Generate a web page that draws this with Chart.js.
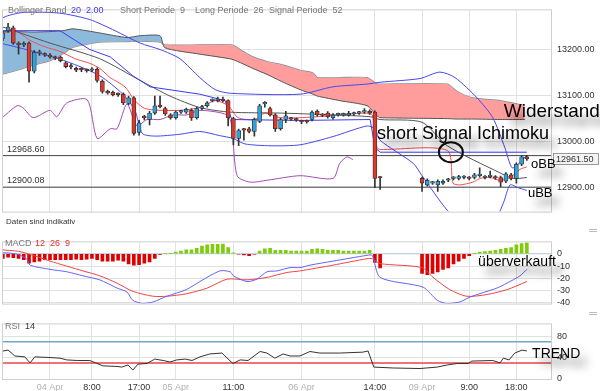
<!DOCTYPE html>
<html>
<head>
<meta charset="utf-8">
<script src="https://cdn.jsdelivr.net/npm/chart.js@4.4.1/dist/chart.umd.min.js"></script>
<style>
  body { margin: 0; background: #fff; width: 600px; height: 391px; overflow: hidden; position: relative; font-family: "Liberation Sans", Arial, sans-serif; }
  canvas { position: absolute; left: 0; }
  .lbl { position: absolute; font-size: 9px; line-height: 9px; white-space: nowrap; color: #777; }
  .handle { position: absolute; left: 589px; width: 8px; height: 1px; border-top: 1px solid #bbb; border-bottom: 1px solid #bbb; }
</style>
</head>
<body>
<canvas id="mainChart" width="600" height="222" style="top:0"></canvas>
<canvas id="macdChart" width="600" height="82" style="top:232px"></canvas>
<canvas id="rsiChart" width="600" height="77" style="top:314px"></canvas>

<span class="lbl" style="left:8px;top:6px">Bollinger Band</span>
<span class="lbl" style="left:71px;top:6px;color:#3d3de0">20&nbsp;&nbsp;2.00</span>
<span class="lbl" style="left:120px;top:6px">Short Periode&nbsp;&nbsp;9</span>
<span class="lbl" style="left:195px;top:6px">Long Periode&nbsp;&nbsp;26</span>
<span class="lbl" style="left:269px;top:6px">Signal Periode&nbsp;&nbsp;52</span>
<span class="lbl" style="left:6px;top:217px;font-size:8px;color:#333">Daten sind indikativ</span>
<span class="lbl" style="left:5px;top:239px">MACD</span>
<span class="lbl" style="left:35px;top:239px;color:#e03030">12&nbsp;&nbsp;26&nbsp;&nbsp;9</span>
<span class="lbl" style="left:5px;top:322px">RSI</span>
<span class="lbl" style="left:25px;top:322px;color:#333">14</span>
<div class="handle" style="top:229px"></div>
<div class="handle" style="top:312px"></div>

<script>
// ---- Achse (Stunden ab 04 Apr 00:00, Wochenende zusammengeschoben) ----
const X_MIN = -9.16, X_MAX = 95.8;
const tickHours = [0, 8, 17, 24, 35, 48, 62, 71, 80, 89];
const tickLabels = ['04 Apr', '8:00', '17:00', '05 Apr', '11:00', '06 Apr', '14:00', '09 Apr', '9:00', '18:00'];

// ---- Kerzen ----
const candleHour = [
  -9, -8, -7, -6, -5, -4, -3, -2, -1, 0, 1, 2, 3, 4, 5, 6, 7, 8, 9, 10,
  11, 12, 13, 14, 15, 16, 17, 18, 19, 20, 21, 22, 23, 24, 25, 26, 27, 28, 29, 30,
  31, 32, 33, 34, 35, 36, 37, 38, 39, 40, 41, 42, 43, 44, 45, 46, 47, 48, 49, 50,
  51, 52, 53, 54, 55, 56, 57, 58, 59, 60, 61, 62, 63,
  71, 72, 73, 74, 75, 76, 77, 78, 79, 80, 81, 82, 83, 84, 85, 86, 87, 88, 89, 90, 91
];
const candleOpen = [
  13223, 13240, 13246, 13213, 13209, 13213, 13152, 13191, 13189, 13187, 13182, 13182, 13170, 13163, 13158, 13156, 13154, 13154, 13156, 13130,
  13108, 13106, 13102, 13102, 13082, 13094, 13019, 13053, 13047, 13061, 13077, 13071, 13057, 13051, 13063, 13063, 13067, 13051, 13071, 13077,
  13088, 13088, 13089, 13088, 13049, 13006, 13025, 13027, 13021, 13043, 13081, 13071, 13057, 13027, 13047, 13049, 13047, 13043, 13043, 13047,
  13065, 13057, 13061, 13051, 13057, 13057, 13057, 13059, 13061, 13063, 13065, 13063, 12921,
  12919, 12905, 12909, 12905, 12909, 12915, 12919, 12919, 12921, 12920, 12921, 12925, 12921, 12923, 12922, 12921, 12913, 12927, 12919, 12950, 12966
];
const candleHigh = [
  13240, 13256, 13250, 13216, 13216, 13216, 13197, 13198, 13192, 13190, 13185, 13185, 13173, 13168, 13161, 13159, 13157, 13160, 13159, 13133,
  13111, 13109, 13105, 13105, 13098, 13097, 13045, 13056, 13065, 13098, 13098, 13074, 13060, 13066, 13067, 13072, 13070, 13074, 13078, 13086,
  13092, 13096, 13096, 13090, 13052, 13026, 13028, 13030, 13050, 13080, 13086, 13074, 13060, 13050, 13065, 13052, 13050, 13046, 13046, 13066,
  13068, 13060, 13064, 13060, 13061, 13061, 13065, 13063, 13065, 13071, 13068, 13066, 12923,
  12922, 12918, 12913, 12916, 12916, 12919, 12923, 12926, 12925, 12923, 12930, 12942, 12925, 12935, 12925, 12924, 12932, 12930, 12953, 12969, 12969
];
const candleLow = [
  13218, 13236, 13210, 13189, 13205, 13128, 13148, 13186, 13184, 13180, 13177, 13172, 13159, 13157, 13151, 13151, 13150, 13151, 13128, 13104,
  13102, 13098, 13097, 13079, 13079, 13013, 13013, 13046, 13035, 13058, 13072, 13056, 13048, 13048, 13060, 13060, 13045, 13048, 13068, 13074,
  13085, 13085, 13085, 13033, 12992, 12990, 13002, 13018, 13011, 13040, 13074, 13054, 13021, 13024, 13040, 13045, 13043, 13038, 13039, 13044,
  13054, 13053, 13050, 13048, 13054, 13054, 13054, 13056, 13058, 13060, 13058, 12899, 12895,
  12891, 12902, 12906, 12891, 12906, 12912, 12916, 12916, 12918, 12916, 12918, 12922, 12918, 12920, 12917, 12901, 12910, 12916, 12909, 12947, 12958
];
const candleClose = [
  13235, 13248, 13213, 13209, 13212, 13152, 13193, 13193, 13187, 13183, 13180, 13175, 13162, 13161, 13154, 13155, 13153, 13155, 13132, 13108,
  13105, 13101, 13101, 13083, 13094, 13017, 13040, 13051, 13061, 13077, 13075, 13059, 13051, 13063, 13064, 13069, 13051, 13071, 13075, 13083,
  13089, 13089, 13088, 13051, 13006, 13023, 13024, 13021, 13047, 13077, 13082, 13057, 13027, 13047, 13055, 13048, 13046, 13042, 13042, 13063,
  13057, 13056, 13053, 13057, 13058, 13058, 13058, 13060, 13062, 13064, 13061, 12919, 12920,
  12909, 12915, 12910, 12913, 12913, 12916, 12920, 12923, 12922, 12919, 12927, 12926, 12922, 12924, 12920, 12911, 12929, 12919, 12950, 12966, 12961.5
];

// ---- Bollinger / Ichimoku Linien [Stunde, Kurs] ----
const upperBand = [[-9.5,13266],[-7.6,13274],[-4.8,13280],[1.9,13278],[7.6,13264],[12.4,13240],[17.2,13213],[21,13199],[24.8,13179],[28.6,13138],[31.5,13112],[34.4,13104],[47.7,13102],[54,13118],[60.5,13124],[63,13128],[70.6,13136],[74.4,13150],[77.3,13138],[81.5,13094],[84.5,13051],[86.8,12986],[88.2,12942],[89.7,12954],[91,12970]];
const lowerBand = [[-9.5,13213],[-3.2,13195],[3.2,13173],[9.5,13142],[13.9,13102],[16.2,13067],[17.6,13017],[20,13011],[24.8,13015],[28.6,13021],[32.4,13012],[34.9,13006],[37.2,12994],[42,12990],[47.7,12992],[54,13010],[60.5,13033],[62,13027],[63,13002],[69.3,12952],[71,12925],[75.8,12850],[80.2,12804],[84,12808],[86.5,12865],[87.8,12905],[89.3,12899],[91,12893]];
const midBand = [[-9.5,13250],[0,13213],[9.5,13179],[17.2,13132],[22.9,13098],[28.6,13073],[34.4,13063],[43.9,13061],[54,13057],[61.1,13053],[63,13047],[71,13041],[75.8,12990],[85.9,12931],[88.4,12919],[91,12921]];
const kijun = [[-9.5,13240],[1.9,13240],[4.8,13219],[7.6,13199],[11.5,13183],[15.8,13142],[19.1,13118],[28.6,13102],[33.4,13088],[34.7,13047],[47.7,13045],[61.1,13047],[62,12986],[63,12976],[91,12976]];
const tenkan = [[-9.5,13233],[-6.7,13240],[-3.8,13219],[-1,13205],[1.9,13195],[4.8,13179],[7.6,13169],[9.5,13158],[11.5,13138],[14.3,13118],[16.2,13088],[18.1,13071],[21,13067],[24.8,13067],[28.6,13073],[31.5,13088],[34,13077],[35.9,13051],[39.1,13047],[41,13061],[43.9,13051],[47.7,13051],[53.4,13055],[60.1,13061],[61.5,13057],[62.4,12986],[63,12982],[75.8,12980],[76.9,12909],[78.2,12905],[80.7,12911],[82.1,12919],[84,12921],[85.9,12915],[87.8,12921],[89.7,12939],[91,12944]];
const chikou = [[-9.5,13047],[-6.3,13077],[-5.2,13073],[-3.2,13051],[0,13067],[1.3,13053],[3.2,13083],[7.1,13090],[9,13006],[11.5,13027],[12.8,13027],[14.7,13081],[16.6,13033],[18.5,13047],[21,13047],[23.5,13057],[26.1,13057],[28.6,13067],[33.8,13057],[34.7,13033],[35.7,12925],[38.2,12911],[41.4,12915],[47.7,12925],[54,12919],[55.3,12952],[56.7,12966],[57.8,12960]];

// Wolke
const cloudHours = [-9.5, -6.3, -3.2, 0, 2.5, 4.4, 9.5, 14.7, 17.2, 21, 21.9, 28.6, 34.7, 36.8, 38.7, 41.4, 44.5, 47.7, 50.2, 51, 55.3, 60.5, 62.4, 63, 75.8, 77.7, 80.7, 85.9, 90.6];
const senkouA = [13238, 13238, 13237, 13238, 13240, 13244, 13235, 13225, 13229, 13229, 13203, 13189, 13178, 13168, 13158, 13145, 13128, 13112, 13102, 13098, 13088, 13077, 13055, 13051, 13049, 13048, 13048, 13047, 13047];
const senkouB = [13144, 13154, 13165, 13175, 13190, 13204, 13215, 13216, 13217, 13215, 13209, 13209, 13209, 13195, 13183, 13173, 13165, 13154, 13148, 13138, 13138, 13138, 13124, 13124, 13124, 13108, 13094, 13088, 13077];

const levelLines = [12968.60, 12900.08];
const mainTicks = [12900, 13000, 13100, 13200];

// ---- MACD ----
const macdHist = [
  -3.8, -2.7, -3.1, -3.8, -4.9, -7.6, -6.7, -6, -4.9, -4.9, -4.9, -4.9, -4.9, -4.9, -4.4, -4.9, -4.4, -3.8, -4.9, -6,
  -6, -6, -5.3, -6, -8.2, -9.3, -8.9, -7.6, -6.7, -3.8, -0.5, 0.2, 0.3, 1.3, 2.2, 3.3, 3.3, 4.4, 6.2, 7.3,
  7.8, 7.8, 8, 5, 0.7, -0.4, -0.9, -1.6, -0.4, 2.2, 4, 4.4, 2.9, 2.9, 2.9, 2.2, 2.2, 2.2, 2.2, 3.6,
  4, 3.6, 2.9, 2.9, 2.9, 2.2, 2.2, 2.2, 2.2, 2.2, 2.9, -7.1, -11.6,
  -16, -17, -16, -14.9, -12.7, -11.6, -8.2, -6, -3.8, -1.6, 0.3, 1.3, 1.8, 2.2, 2.9, 3.6, 4.4, 5.1, 7.3, 8.4, 9.6
];
const macdLine = [[-9.5,0.7],[-8,0.7],[-6,-0.7],[-4.4,-4.4],[-3.8,-9.3],[0,-12.7],[3.2,-14.7],[6.3,-18],[9.5,-21.3],[12.8,-28],[14.7,-31.3],[15.8,-38],[17.7,-40.6],[19.7,-39.3],[22.3,-34.7],[26,-29.3],[28.6,-22.7],[32.4,-14],[34.4,-14.7],[35,-18],[37.6,-22.7],[39.5,-20.7],[41.4,-14.7],[43.3,-14],[45.8,-11.3],[47.7,-11.3],[49.6,-9.3],[54,-6],[60.5,-1.3],[61.5,-1.3],[63,-19.3],[71.2,-27.3],[73.9,-38],[75.8,-40.7],[78.2,-39.3],[80.2,-35.3],[83.4,-30.7],[85.3,-28],[87.2,-24],[89.7,-18],[91,-12.7]];
const signalLine = [[-9.5,3.3],[-6,2],[-3.2,-1.3],[0,-6],[6.3,-14],[9.5,-18],[12.8,-24],[15.8,-30.7],[19.7,-34.7],[22.3,-34.7],[26,-32.7],[30,-28],[33.8,-20.7],[37.6,-21.3],[41.4,-19.3],[45.2,-15.3],[47.7,-14],[54,-9.3],[60.5,-4],[61.5,-4],[63,-8],[71,-11.3],[73.1,-19.3],[76.3,-29.3],[79.5,-34.7],[83.4,-33.3],[87.2,-29.3],[91,-22.7]];
const macdTicks = [0, -10, -20, -30, -40];

// ---- RSI ----
const rsiLine = [[-9.5,51.7],[-8,54.4],[-6.7,43.3],[-4.8,41.6],[-3.8,30.3],[-2.9,41.6],[0,40.4],[1.9,39.2],[3.2,35.9],[5.2,34.8],[7.6,34.8],[10.1,24.7],[12.8,23.6],[13.7,22.4],[14.9,26.4],[15.8,16.8],[16.8,28],[18.5,29.2],[20,37.5],[21.6,34.8],[22.9,32],[24.2,35.9],[25.8,37.5],[27.1,34.8],[28.6,41.6],[30.5,47.1],[32.8,48.8],[34.9,29.2],[36.3,35.9],[37.8,34.8],[40.1,51.7],[41.4,48.8],[42.9,39.2],[44.5,47.1],[45.8,43.3],[47.7,43.3],[49.6,51.7],[51.5,48.8],[55.3,48.8],[59.7,50.5],[60.7,52.7],[61.8,22.4],[65.5,20.7],[70.6,19.7],[73.9,22.4],[75.8,26.4],[77.7,29.2],[79.8,29.2],[80.5,33.7],[84.5,34.8],[85.9,30.3],[86.5,39.2],[87.6,35.9],[88.7,48.8],[90.1,54.4],[91,52.7]];
const rsiLevels = [70, 30];
const rsiTicks = [0, 40, 80];

Chart.defaults.font.family = '"Liberation Sans", Arial, sans-serif';
Chart.defaults.font.size = 9;

const pts = arr => arr.map(p => ({ x: p[0], y: p[1] }));

function xAxis(showLabels) {
  return {
    type: 'linear', min: X_MIN, max: X_MAX, offset: false,
    afterBuildTicks: s => { s.ticks = tickHours.map(v => ({ value: v })); },
    afterFit: s => { s.height = showLabels ? 12 : 0; },
    grid: { color: '#e3e3e3', drawTicks: false, offset: false },
    border: { display: false },
    ticks: {
      display: showLabels, padding: 3, autoSkip: false, maxRotation: 0,
      callback: v => tickLabels[tickHours.indexOf(v)],
      color: ctx => (tickLabels[ctx.index] || '').indexOf('Apr') >= 0 ? '#b0b0b0' : '#333'
    }
  };
}

function yAxis(min, max, ticks, fmt) {
  return {
    position: 'right', min: min, max: max,
    afterBuildTicks: s => { s.ticks = ticks.map(v => ({ value: v })); },
    afterFit: s => { s.width = 48; },
    grid: { color: '#e0e0e0', drawTicks: false },
    border: { display: false },
    ticks: { padding: 5, color: '#333', callback: fmt }
  };
}

// Rahmen um die Zeichenfläche
const framePlugin = {
  id: 'frame',
  afterDraw(chart) {
    const a = chart.chartArea, c = chart.ctx;
    c.save();
    c.strokeStyle = '#cfcfcf';
    c.lineWidth = 1;
    c.strokeRect(a.left + 0.5, a.top - 0.5, a.right - a.left - 1, a.bottom - a.top + 1);
    c.restore();
  }
};

function shadowText(c, text, px, py, size) {
  c.save();
  c.font = size + 'px "Liberation Sans", Arial, sans-serif';
  c.shadowColor = 'rgba(0,0,0,0.55)';
  c.shadowBlur = 9;
  c.shadowOffsetX = 7;
  c.shadowOffsetY = 9;
  c.fillStyle = '#000';
  c.fillText(text, px, py);
  c.restore();
}

// Notizen im Kurschart
const mainNotes = {
  id: 'mainNotes',
  afterDraw(chart) {
    const c = chart.ctx, x = chart.scales.x, y = chart.scales.y, a = chart.chartArea;
    c.save();
    c.font = '9px "Liberation Sans", Arial, sans-serif';
    c.fillStyle = '#333';
    levelLines.forEach(v => c.fillText(v.toFixed(2), a.left + 5, y.getPixelForValue(v) - 4));

    const last = candleClose[candleClose.length - 1];
    const py = Math.round(y.getPixelForValue(last));
    c.fillStyle = '#f3f3f3';
    c.fillRect(a.right + 1, py - 5.5, 46, 11);
    c.strokeStyle = '#999';
    c.strokeRect(a.right + 1.5, py - 5.5, 45, 11);
    c.fillStyle = '#333';
    c.fillText(last.toFixed(2), a.right + 4, py + 3);

    c.beginPath();
    c.lineWidth = 2;
    c.strokeStyle = '#111';
    c.ellipse(x.getPixelForValue(76.5), y.getPixelForValue(12976), 12, 10, 0, 0, Math.PI * 2);
    c.stroke();
    c.restore();

    shadowText(c, 'Widerstand', x.getPixelForValue(86.6), y.getPixelForValue(13053), 19);
    shadowText(c, 'short Signal Ichimoku', x.getPixelForValue(62.4), y.getPixelForValue(13004), 18);
    shadowText(c, 'oBB', x.getPixelForValue(91.8), y.getPixelForValue(12942), 13);
    shadowText(c, 'uBB', x.getPixelForValue(91.2), y.getPixelForValue(12879), 13);
  }
};

const lineDs = (data, color, extra) => Object.assign({
  type: 'line', data: pts(data), borderColor: color, borderWidth: 1,
  pointRadius: 0, tension: 0.25, fill: false, order: 3
}, extra || {});

const isUp = candleClose.map((c, i) => c >= candleOpen[i]);

new Chart(document.getElementById('mainChart'), {
  type: 'line',
  data: {
    datasets: [
      {
        type: 'line', data: cloudHours.map((h, i) => ({ x: h, y: senkouA[i] })),
        borderColor: '#555', borderWidth: 1, pointRadius: 0, tension: 0.2, order: 9,
        fill: { target: '+1', above: '#8dbadb', below: '#ff9d9d' }
      },
      {
        type: 'line', data: cloudHours.map((h, i) => ({ x: h, y: senkouB[i] })),
        borderColor: '#8a8a8a', borderWidth: 1.2, pointRadius: 0, tension: 0.2, order: 9, fill: false
      },
      lineDs(upperBand, '#4747ee'),
      lineDs(lowerBand, '#4747ee'),
      lineDs(kijun, '#3b3bf2', { tension: 0 }),
      lineDs(midBand, '#555555'),
      lineDs(chikou, '#a24db3'),
      lineDs(tenkan, '#f25050'),
      lineDs([[X_MIN, levelLines[0]], [X_MAX, levelLines[0]]], '#444', { tension: 0, order: 4 }),
      lineDs([[X_MIN, levelLines[1]], [X_MAX, levelLines[1]]], '#444', { tension: 0, order: 4 }),
      {
        type: 'bar', grouped: false, order: 2, barThickness: 1,
        data: candleHour.map((h, i) => ({ x: h, y: [candleLow[i], candleHigh[i]] })),
        backgroundColor: '#333'
      },
      {
        type: 'bar', grouped: false, order: 1, barThickness: 4, minBarLength: 1.5,
        data: candleHour.map((h, i) => ({ x: h, y: [candleOpen[i], candleClose[i]] })),
        backgroundColor: isUp.map(u => u ? '#2ba3df' : '#e2352a'),
        borderColor: '#333', borderWidth: 0.8, borderSkipped: false
      }
    ]
  },
  options: {
    responsive: false, animation: false,
    layout: { padding: { left: 2, top: 3, bottom: 4, right: 0 } },
    plugins: { legend: { display: false }, tooltip: { enabled: false } },
    scales: {
      x: xAxis(false),
      y: yAxis(12847, 13284, mainTicks, v => v.toFixed(2))
    }
  },
  plugins: [framePlugin, mainNotes]
});

// MACD
new Chart(document.getElementById('macdChart'), {
  type: 'line',
  data: {
    datasets: [
      {
        type: 'bar', grouped: false, order: 3, barThickness: 3,
        data: candleHour.map((h, i) => ({ x: h, y: macdHist[i] })),
        backgroundColor: macdHist.map(v => v >= 0 ? '#7fcc0a' : '#e00000')
      },
      lineDs([[X_MIN, 0], [X_MAX, 0]], '#b9cde0', { tension: 0, order: 4 }),
      lineDs(macdLine, '#6464f5', { order: 1 }),
      lineDs(signalLine, '#f04545', { order: 2 })
    ]
  },
  options: {
    responsive: false, animation: false,
    layout: { padding: { left: 2, top: 5, bottom: 2, right: 0 } },
    plugins: { legend: { display: false }, tooltip: { enabled: false } },
    scales: { x: xAxis(false), y: yAxis(-40.7, 9.3, macdTicks, v => String(v)) }
  },
  plugins: [framePlugin, {
    id: 'macdNote',
    afterDraw(chart) {
      shadowText(chart.ctx, 'überverkauft', chart.scales.x.getPixelForValue(81.7), chart.scales.y.getPixelForValue(-10), 14);
    }
  }]
});

// RSI
new Chart(document.getElementById('rsiChart'), {
  type: 'line',
  data: {
    datasets: [
      lineDs([[X_MIN, rsiLevels[0]], [X_MAX, rsiLevels[0]]], '#6ea9c6', { tension: 0, borderWidth: 1.5 }),
      lineDs([[X_MIN, rsiLevels[1]], [X_MAX, rsiLevels[1]]], '#ea4545', { tension: 0, borderWidth: 1.5 }),
      lineDs(rsiLine, '#333', { tension: 0, order: 1 })
    ]
  },
  options: {
    responsive: false, animation: false,
    layout: { padding: { left: 2, top: 4, bottom: 0, right: 0 } },
    plugins: { legend: { display: false }, tooltip: { enabled: false } },
    scales: { x: xAxis(true), y: yAxis(0, 102.7, rsiTicks, v => String(v)) }
  },
  plugins: [framePlugin, {
    id: 'rsiNote',
    afterDraw(chart) {
      shadowText(chart.ctx, 'TREND', chart.scales.x.getPixelForValue(92), chart.scales.y.getPixelForValue(38.7), 14);
    }
  }]
});
</script>
</body>
</html>
